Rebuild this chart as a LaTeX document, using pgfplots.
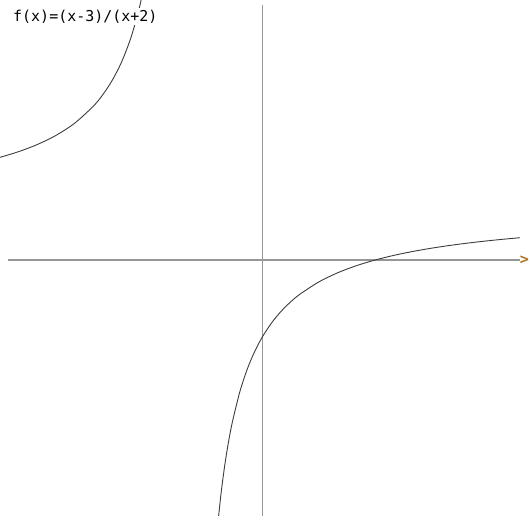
\documentclass[border=0pt]{standalone}
\usepackage{pgfplots}
\pgfplotsset{compat=1.18}
\usepackage{fontspec}
\setmonofont{DejaVu Sans Mono}
\definecolor{axisgray}{RGB}{150,150,150}
\definecolor{curvegray}{RGB}{60,60,60}
\definecolor{arrowcol}{RGB}{176,112,32}
\begin{document}
\begin{tikzpicture}
  \begin{axis}[
    set layers,
    scale only axis,
    width=529pt, height=517pt,
    xmin=-6.976, xmax=7.056,
    ymin=-5.0, ymax=5.078,
    hide axis,
    clip mode=individual,
  ]
    \path (rel axis cs:0,0) rectangle (rel axis cs:1,1);
    % coordinate axes
    \addplot[axisgray, line width=1.3pt] coordinates {(-6.764,0) (6.844,0)};
    \addplot[axisgray, line width=1.3pt] coordinates {(0,4.98) (0,-5.0)};
    % left branch
    \addplot[curvegray, line width=0.9pt, smooth] coordinates {
      (-6.98,2.004) (-6.5,2.111) (-6,2.25) (-5.5,2.4286) (-5,2.6667)
      (-4.5,3.0) (-4.25,3.2222) (-4,3.5) (-3.75,3.8571) (-3.5,4.3333)
      (-3.3,4.8462) (-3.2,5.1667) (-3.1,5.5455)
    };
    % right branch
    \addplot[curvegray, line width=0.9pt, smooth] coordinates {
      (-1.2,-5.25) (-1.1,-4.5556) (-1.0,-4) (-0.9,-3.5455) (-0.8,-3.1667)
      (-0.6,-2.5714) (-0.4,-2.125) (-0.2,-1.7778) (0,-1.5) (0.25,-1.2222)
      (0.5,-1) (0.75,-0.8182) (1,-0.6667) (1.5,-0.4286) (2,-0.25)
      (2.5,-0.1111) (3,0) (3.5,0.0909) (4,0.1667) (4.5,0.2308) (5,0.2857)
      (5.5,0.3333) (6,0.375) (6.5,0.4118) (6.84,0.4344)
    };
    \node[anchor=west, text=arrowcol, inner sep=0pt,
          font=\ttfamily\bfseries\fontsize{15}{15}\selectfont] at (axis cs:6.84,0.0) {>};
    \node[on layer=axis foreground, anchor=north west, fill=white, inner sep=1.5pt,
          font=\ttfamily\fontsize{15}{15}\selectfont] at (axis cs:-6.67,4.92) {f(x)=(x-3)/(x+2)};
  \end{axis}
\end{tikzpicture}
\end{document}
